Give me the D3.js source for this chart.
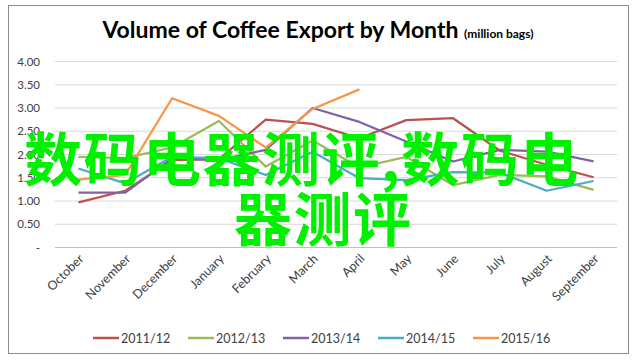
<!DOCTYPE html>
<html>
<head>
<meta charset="utf-8">
<script src="https://cdn.jsdelivr.net/npm/d3@7"></script>
<style>
  body { margin: 0; background: #fff; }
  text { font-family: Lato, "Liberation Sans", sans-serif; }
</style>
</head>
<body>
<script>
// months on the x axis
var months = ["October", "November", "December", "January", "February", "March",
              "April", "May", "June", "July", "August", "September"];
var seasons = ["2011/12", "2012/13", "2013/14", "2014/15", "2015/16"];
var colors = ["#c0504d", "#9bbb59", "#8064a2", "#4bacc6", "#f79646"];
var yTicks = [0, 0.5, 1, 1.5, 2, 2.5, 3, 3.5, 4];

// values (million bags)
var v1112 = [0.97, 1.22, 1.88, 1.90, 2.75, 2.66, 2.35, 2.74, 2.78, 2.08, 1.78, 1.51];
var v1213 = [1.95, 1.92, 2.15, 2.72, 1.74, 2.30, 1.72, 1.95, 1.34, 1.56, 1.53, 1.24];
var v1314 = [1.18, 1.18, 1.92, 1.88, 2.10, 3.00, 2.70, 2.28, 1.85, 2.10, 2.06, 1.85];
var v1415 = [1.70, 1.38, 1.95, 1.92, 1.56, 2.06, 1.49, 1.45, 1.62, 1.61, 1.22, 1.43];
var v1516 = [1.46, 1.56, 3.21, 2.83, 2.15, 2.98, 3.40];
var series = [v1112, v1213, v1314, v1415, v1516];

var width = 637, height = 360;
var plotL = 55, plotR = 617, plotT = 61.5, plotB = 247.5;

var svg = d3.select("body").append("svg")
    .attr("width", width)
    .attr("height", height);

// chart frame
svg.append("rect")
    .attr("x", 8.5).attr("y", 5.5)
    .attr("width", 620).attr("height", 348)
    .attr("fill", "#fff")
    .attr("stroke", "#8c8c8c");

var x = d3.scaleBand().domain(months).range([plotL, plotR]);
var y = d3.scaleLinear().domain([0, 4]).range([plotB, plotT]);

// gridlines
svg.selectAll(".grid")
    .data(yTicks)
    .enter()
    .append("line")
    .attr("x1", plotL).attr("x2", plotR)
    .attr("y1", function(d){ return y(d); })
    .attr("y2", function(d){ return y(d); })
    .attr("stroke", function(d){ return d == 0 ? "#bfbfbf" : "#d9d9d9"; })
    .attr("stroke-width", 1);

// y labels (zero shown as a dash, accounting style)
svg.selectAll(".ylab")
    .data(yTicks)
    .enter()
    .append("text")
    .attr("x", 40)
    .attr("y", function(d){ return y(d) + 4; })
    .attr("text-anchor", "end")
    .attr("font-size", 11.5)
    .attr("fill", "#404040")
    .text(function(d){ return d == 0 ? "-" : d.toFixed(2); });

// x labels rotated
svg.selectAll(".xlab")
    .data(months)
    .enter()
    .append("text")
    .attr("transform", function(d){
        return "translate(" + (x(d) + x.bandwidth() / 2 + 6) + "," + (plotB + 12) + ") rotate(-45)";
    })
    .attr("text-anchor", "end")
    .attr("font-size", 12.5)
    .attr("fill", "#404040")
    .text(function(d){ return d; });

// series lines
var line = d3.line()
    .x(function(d, i){ return x(months[i]) + x.bandwidth() / 2; })
    .y(function(d){ return y(d); });

svg.selectAll(".series")
    .data(series)
    .enter()
    .append("path")
    .attr("d", line)
    .attr("fill", "none")
    .attr("stroke", function(d, i){ return colors[i]; })
    .attr("stroke-width", 2.25)
    .attr("stroke-linejoin", "round");

// title
var title = svg.append("text")
    .attr("x", 318)
    .attr("y", 38)
    .attr("text-anchor", "middle")
    .attr("fill", "#000");
title.append("tspan")
    .attr("font-size", 23)
    .attr("font-weight", "bold")
    .text("Volume of Coffee Export by Month ");
title.append("tspan")
    .attr("font-size", 12)
    .attr("font-weight", "bold")
    .text("(million bags)");

// legend
var legend = svg.selectAll(".legend")
    .data(seasons)
    .enter()
    .append("g")
    .attr("transform", function(d, i){ return "translate(" + (93 + i * 95) + ",338)"; });
legend.append("line")
    .attr("x1", 0).attr("x2", 26)
    .attr("stroke", function(d, i){ return colors[i]; })
    .attr("stroke-width", 2.5);
legend.append("text")
    .attr("x", 28).attr("y", 4.5)
    .attr("font-size", 12.5)
    .attr("fill", "#404040")
    .text(function(d){ return d; });

// green watermark over the chart
var wm = svg.append("g")
    .attr("font-size", 58)
    .attr("font-weight", "bold")
    .attr("fill", "#00f000");
wm.append("text")
    .attr("x", 24).attr("y", 181)
    .attr("letter-spacing", 1.5)
    .style("font-family", "'Noto Sans CJK SC', sans-serif")
    .text("数码电器测评,数码电");
wm.append("text")
    .attr("x", 234).attr("y", 241)
    .attr("letter-spacing", 1.5)
    .style("font-family", "'Noto Sans CJK SC', sans-serif")
    .text("器测评");
</script>
</body>
</html>
